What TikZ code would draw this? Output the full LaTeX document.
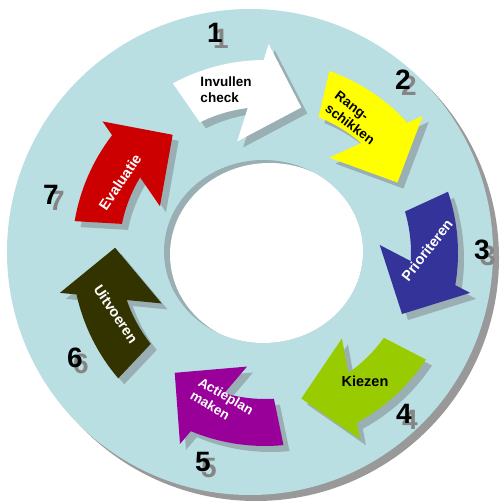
\documentclass[tikz,border=0pt]{standalone}
\usepackage{fontspec}
\setmainfont{Liberation Sans}
\definecolor{ringblue}{HTML}{B9DFE3}
\definecolor{ringshade}{HTML}{999999}
\definecolor{arrowshade}{HTML}{9AAFB3}
\definecolor{numgray}{HTML}{858585}
\definecolor{stepyellow}{HTML}{FFFF00}
\definecolor{stepblue}{HTML}{333399}
\definecolor{stepgreen}{HTML}{99CC00}
\definecolor{steppurple}{HTML}{990099}
\definecolor{stepolive}{HTML}{333300}
\definecolor{stepred}{HTML}{CC0000}
\tikzset{
  steptext/.style={font=\bfseries\fontsize{13.5}{16}\selectfont, align=left, inner sep=0pt},
  oneline/.style={font=\bfseries\fontsize{14.5}{16}\selectfont},
  stepnum/.style={font=\bfseries\fontsize{28}{30}\selectfont, inner sep=0pt},
  numshadow/.style={stepnum, text=numgray},
}
\begin{document}
\begin{tikzpicture}[x=1pt,y=1pt]
  \useasboundingbox (0,0) rectangle (500,503);

  % ring
  \fill[ringshade] (256,245) circle[radius=243];
  \fill[ringblue] (250,251) circle[radius=243];
  \fill[arrowshade] (263.5,251.5) ellipse[x radius=99.5, y radius=91.5];
  \begin{scope}
    \clip (263.5,251.5) ellipse[x radius=99.5, y radius=91.5];
    \fill[white] (269.5,248.5) ellipse[x radius=99.5, y radius=91.5];
  \end{scope}

  % arrows, shadows first
  \foreach \ang in {104,56,4,-48,-99,-154,156}
    \fill[arrowshade, shift={(271,244)}, rotate=\ang]
      (14.5:193) arc[start angle=14.5, end angle=-13.6, radius=193]
      -- (-15:209) -- (-28:150) -- (0:115) -- (-7.2:146)
      arc[start angle=-7.2, end angle=12.5, radius=146] -- cycle;
  \foreach \ang/\col in {104/white,56/stepyellow,4/stepblue,-48/stepgreen,-99/steppurple,-154/stepolive,156/stepred}
    \fill[\col, shift={(265,250)}, rotate=\ang]
      (14.5:193) arc[start angle=14.5, end angle=-13.6, radius=193]
      -- (-15:209) -- (-28:150) -- (0:115) -- (-7.2:146)
      arc[start angle=-7.2, end angle=12.5, radius=146] -- cycle;

  % labels
  \node[steptext] (t1) at (226,413) {Invullen\\check};
  \node[steptext, rotate=-37] (t2) at (355,385) {Rang-\\schikken};
  \node[steptext, oneline, text=white, rotate=52] (t3) at (427,253) {Prioriteren};
  \node[steptext, oneline] (t4) at (365,122) {Kiezen};
  \node[steptext, text=white, rotate=-30] (t5) at (222,100) {Actieplan\\maken};
  \node[steptext, oneline, text=white, rotate=-56] (t6) at (116,189) {Uitvoeren};
  \node[steptext, oneline, text=white, rotate=56] (t7) at (120,321) {Evaluatie};

  % numbers
  \foreach \n/\x/\y in {1/215/470, 2/403/423, 3/482/253, 4/404/89, 5/203/41, 6/75/145, 7/51/308} {
    \node[numshadow] (s\n) at (\x+6,\y-6) {\n};
    \node[stepnum] (n\n) at (\x,\y) {\n};
  }
\end{tikzpicture}
\end{document}
